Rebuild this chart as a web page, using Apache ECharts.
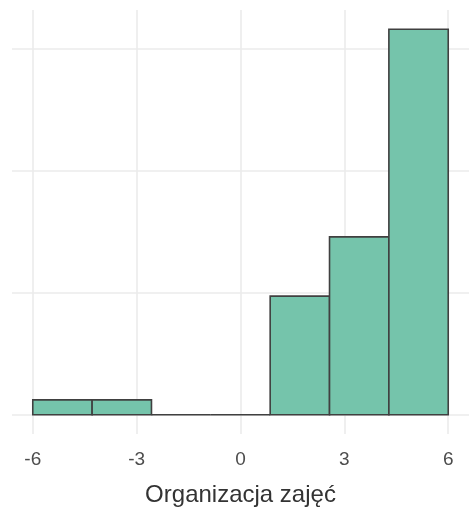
<!DOCTYPE html>
<html>
<head>
<meta charset="utf-8">
<script src="https://cdn.jsdelivr.net/npm/echarts@6/dist/echarts.min.js"></script>
<style>html,body{margin:0;padding:0;background:#fff;}#c{width:469px;height:517px;}</style>
</head>
<body>
<div id="c"></div>
<script>
// Histogram bins (edges) and density heights
var binStart = [-6, -4.2857, -2.5714, -0.8571, 0.8571, 2.5714, 4.2857];
var binEnd   = [-4.2857, -2.5714, -0.8571, 0.8571, 2.5714, 4.2857, 6];
var density  = [0.0122, 0.0122, 0, 0, 0.0972, 0.1458, 0.316];
var xTicks = [-6, -3, 0, 3, 6];
var yGrid = [0, 0.1, 0.2, 0.3];
var xTitle = 'Organizacja zajęć';

var data = binStart.map(function (s, i) { return [s, binEnd[i], density[i]]; });
var chart = echarts.init(document.getElementById('c'), null, {renderer: 'canvas'});
var font = 'Liberation Sans, Arial, sans-serif';
chart.setOption({
  animation: false,
  grid: {left: 12, right: 0, top: 10, bottom: 83, containLabel: false},
  xAxis: {
    type: 'value', min: -6.6, max: 6.6,
    axisLine: {show: false},
    axisTick: {show: false, customValues: xTicks},
    axisLabel: {customValues: xTicks, color: '#4d4d4d', fontSize: 19, fontFamily: font, margin: 16},
    splitLine: {show: true, lineStyle: {color: '#ebebeb', width: 1.6}},
    name: xTitle, nameLocation: 'middle', nameGap: 49,
    nameTextStyle: {color: '#333333', fontSize: 24, fontFamily: font}
  },
  yAxis: {
    type: 'value', min: -0.0158, max: 0.3318,
    axisLine: {show: false},
    axisTick: {show: false, customValues: yGrid},
    axisLabel: {show: false, customValues: yGrid},
    splitLine: {show: true, lineStyle: {color: '#ebebeb', width: 1.6}}
  },
  series: [{
    type: 'custom',
    data: data,
    encode: {x: [0, 1], y: 2},
    renderItem: function (params, api) {
      var p0 = api.coord([api.value(0), 0]);
      var p1 = api.coord([api.value(1), api.value(2)]);
      return {
        type: 'rect',
        shape: {x: p0[0], y: p1[1], width: p1[0] - p0[0], height: p0[1] - p1[1]},
        style: {fill: '#75c4ab', stroke: '#404040', lineWidth: 1.6}
      };
    }
  }]
});
</script>
</body>
</html>
